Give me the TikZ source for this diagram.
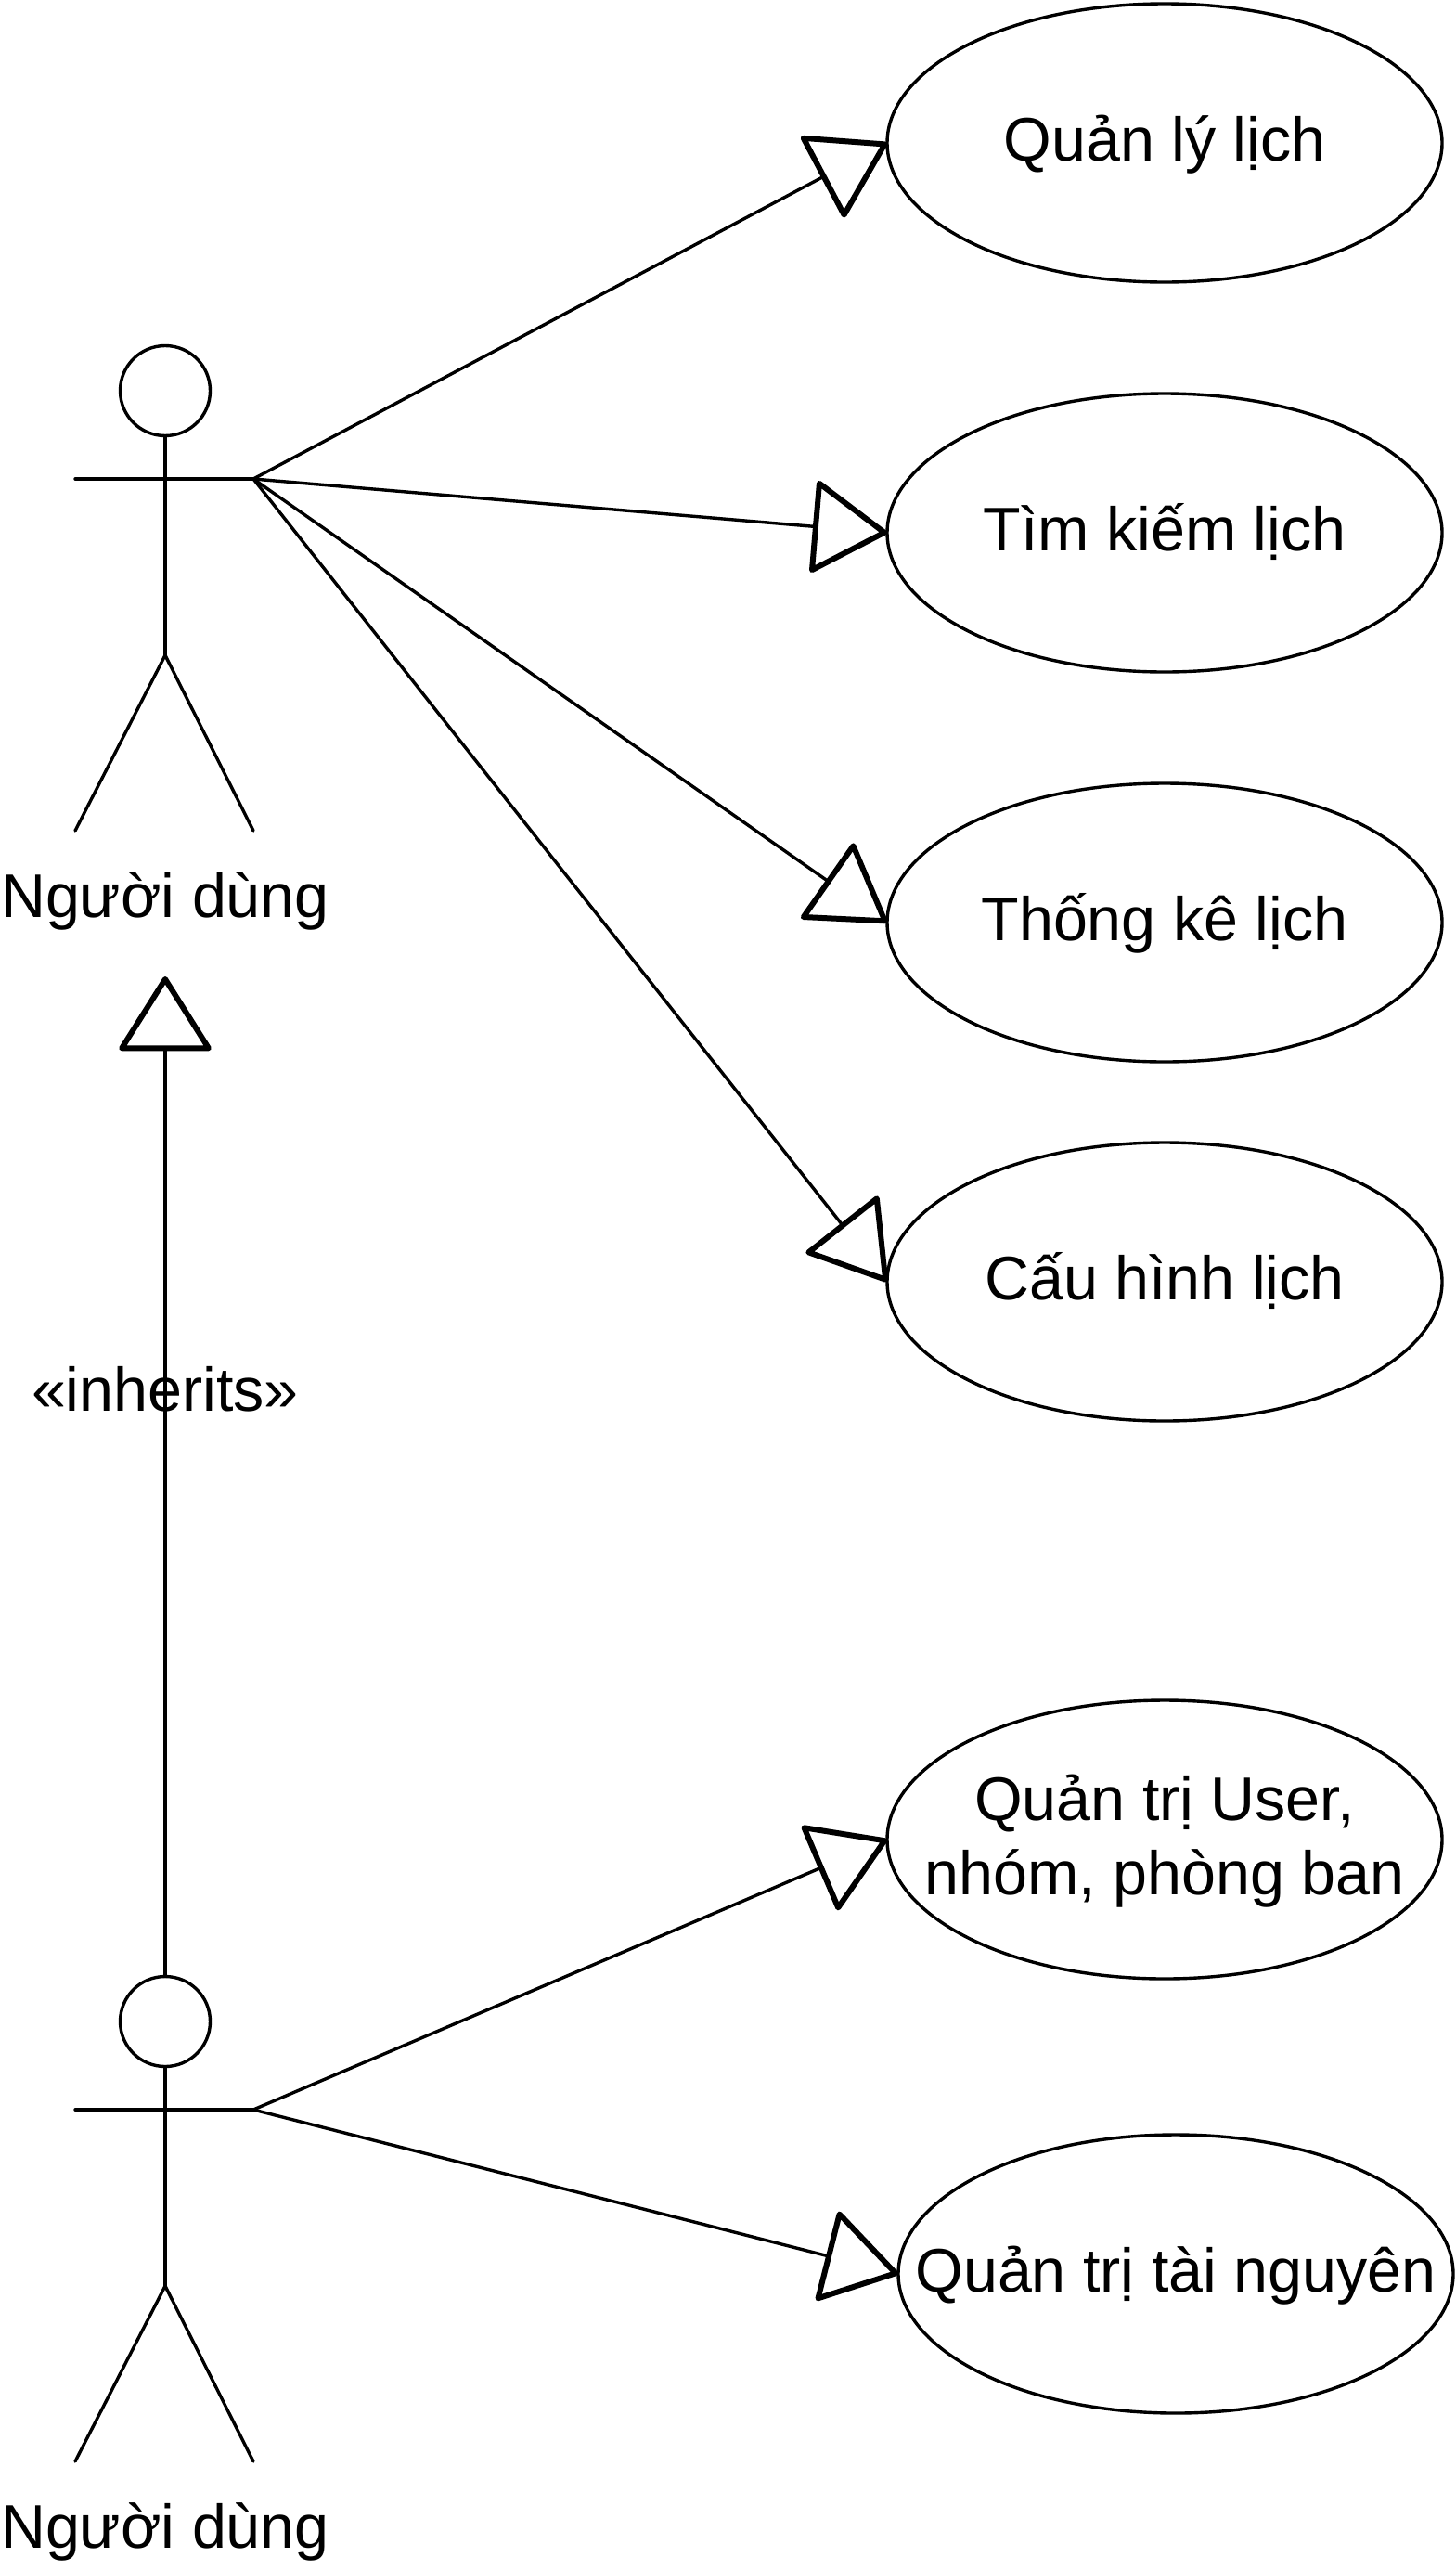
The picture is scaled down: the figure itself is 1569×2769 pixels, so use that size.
\documentclass[tikz,border=0pt]{standalone}
\usepackage{fontspec}
\setmainfont{Liberation Sans}
\usetikzlibrary{shapes.geometric,arrows.meta}
\newcommand\casetext[1]{\raisebox{-9.5pt}[0pt][0pt]{#1}}
\newcommand\casetwo[2]{\raisebox{-29.5pt}[0pt][0pt]{\begin{tabular}[b]{@{}c@{}}#1\\#2\end{tabular}}}
\tikzset{
  usecase/.style={ellipse,draw,line width=1.7pt,minimum width=299pt,minimum height=150pt,inner xsep=-50pt,inner ysep=0pt,outer sep=0pt,font=\fontsize{33.2}{40}\selectfont},
  head/.style={circle,draw,line width=1.7pt,minimum size=48.5pt,inner sep=0pt,outer sep=0pt},
  limb/.style={line width=1.7pt,line cap=round,line join=round},
  label/.style={inner sep=0pt,font=\fontsize{33.2}{40}\selectfont},
  gen/.style={line width=1.7pt,-{Triangle[open,length=41.5pt,width=51.5pt,line width=3pt,round]}}
}
\begin{document}
\begin{tikzpicture}[x=0.5pt,y=-0.5pt]
\useasboundingbox (0,0) rectangle (1569,2769);
% use cases
\node[usecase] (e1) at (1255,154) {\casetext{Quản lý lịch}};
\node[usecase] (e2) at (1255,574) {\casetext{Tìm kiếm lịch}};
\node[usecase] (e3) at (1255,994) {\casetext{Thống kê lịch}};
\node[usecase] (e4) at (1255,1381) {\casetext{Cấu hình lịch}};
\node[usecase] (e5) at (1255,1982) {\casetwo{Quản trị User,}{nhóm, phòng ban}};
\node[usecase] (e6) at (1267,2450) {\casetext{Quản trị tài nguyên}};
% actor 1
\node[head] (h1) at (178,421) {};
\coordinate (a1l) at (81,516);
\coordinate (a1r) at (273,516);
\coordinate (a1hip) at (178,706);
\coordinate (a1fl) at (81,895);
\coordinate (a1fr) at (273,895);
\draw[limb] (h1.south) -- (a1hip);
\draw[limb] (a1l) -- (a1r);
\draw[limb] (a1fl) -- (a1hip) -- (a1fr);
\node[label] (n1) at (178,971) {Người dùng};
% actor 2
\node[head] (h2) at (178,2178) {};
\coordinate (a2l) at (81,2273);
\coordinate (a2r) at (273,2273);
\coordinate (a2hip) at (178,2463);
\coordinate (a2fl) at (81,2652);
\coordinate (a2fr) at (273,2652);
\draw[limb] (h2.south) -- (a2hip);
\draw[limb] (a2l) -- (a2r);
\draw[limb] (a2fl) -- (a2hip) -- (a2fr);
\node[label] (n2) at (178,2728) {Người dùng};
% generalisations
\coordinate (inhtip) at (178,1052);
\draw[gen] (h2.north) -- (inhtip);
\node[label] (inh) at (178,1497) {«inherits»};
\draw[gen] (a1r) -- (e1.west);
\draw[gen] (a1r) -- (e2.west);
\draw[gen] (a1r) -- (e3.west);
\draw[gen] (a1r) -- (e4.west);
\draw[gen] (a2r) -- (e5.west);
\draw[gen] (a2r) -- (e6.west);
\end{tikzpicture}
\end{document}
